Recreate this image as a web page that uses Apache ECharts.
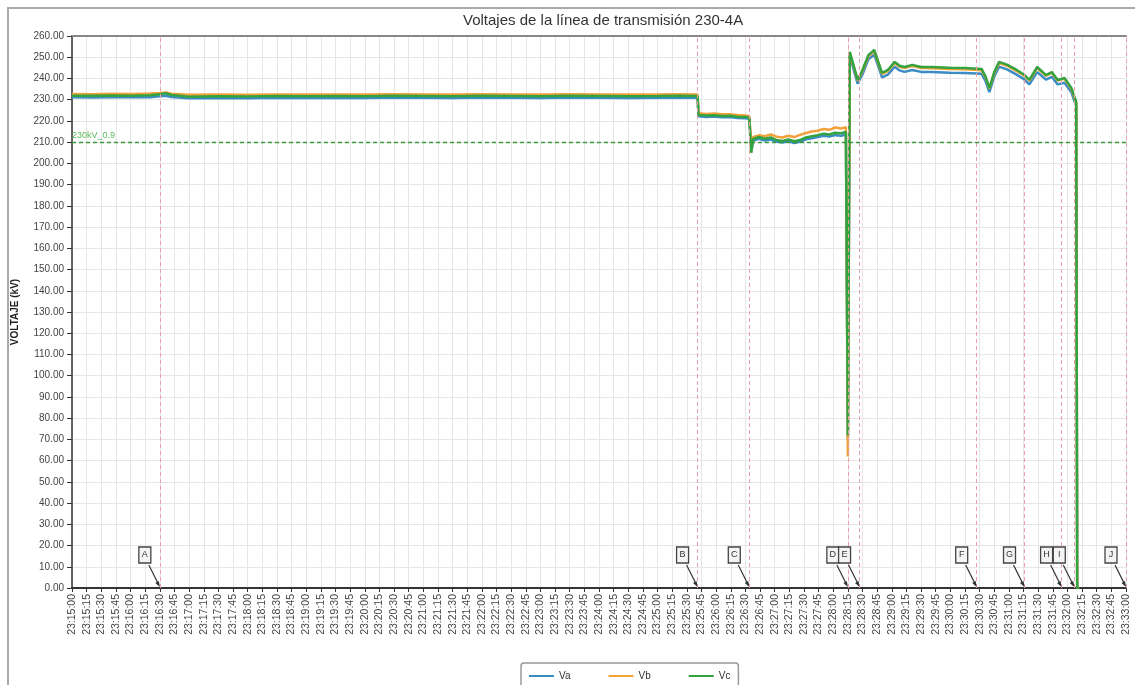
<!DOCTYPE html>
<html>
<head>
<meta charset="utf-8">
<script src="https://cdn.jsdelivr.net/npm/echarts@6/dist/echarts.min.js"></script>
<style>
  html, body { margin: 0; padding: 0; background: #fff; }
  #chart { width: 1135px; height: 685px; }
</style>
</head>
<body>
<div id="chart"></div>
<script>
// tiempo en segundos desde 23:15:00
var times = [
  0, 20, 40, 60, 80, 90, 96, 102, 120, 150, 180, 210, 240, 270, 300, 330, 360, 390, 420, 450, 480, 510, 540, 570, 600, 620, 641,
  642, 650, 658, 666, 674, 682, 690, 694,
  696, 698,
  704, 710, 716, 722, 728, 734, 740, 746, 752, 758, 764, 770, 776, 782, 788, 793,
  795, 797,
  801, 805, 810, 816, 822, 826, 830, 836, 843, 848, 853, 861, 870, 881, 899, 915, 932, 936, 940, 945, 950, 958, 968, 975, 981, 989, 998, 1004, 1010, 1017, 1024, 1029,
  1030, 1032
];
var va = [
  231.1, 231.0, 231.2, 231.1, 231.2, 231.6, 231.9, 231.3, 230.7, 230.8, 230.7, 230.9, 230.8, 230.9, 230.8, 231.0, 230.9, 230.8, 231.0, 230.9, 230.8, 231.0, 230.9, 230.8, 230.9, 231.0, 230.9,
  222.2, 221.9, 222.1, 221.7, 221.8, 221.4, 221.2, 221.0,
  206.0, 210.8,
  211.6, 210.8, 211.2, 210.2, 209.8, 210.4, 209.6, 210.2, 211.3, 211.8, 212.4, 213.0, 212.6, 213.3, 213.0, 213.6,
  70.0, 250.8,
  244.0, 237.5, 242.0, 249.0, 251.2, 246.0, 240.5, 241.8, 245.5, 243.8, 243.1, 244.0, 243.1, 243.0, 242.7, 242.6, 242.2, 238.8, 233.6, 241.0, 245.6, 244.3, 241.8, 239.8, 237.2, 243.0, 239.5, 240.8, 237.2, 238.0, 233.5, 227.0,
  0, 0
];
var vb = [
  232.7, 232.6, 232.8, 232.7, 232.9, 233.2, 233.4, 232.8, 232.3, 232.4, 232.3, 232.5, 232.4, 232.5, 232.4, 232.6, 232.5, 232.4, 232.6, 232.5, 232.4, 232.6, 232.5, 232.4, 232.5, 232.6, 232.5,
  223.6, 223.3, 223.5, 223.1, 223.2, 222.8, 222.6, 222.3,
  208.5, 212.5,
  213.2, 212.8, 213.6, 212.6, 212.2, 213.0, 212.4, 213.4, 214.3, 215.0, 215.4, 216.2, 215.8, 216.9, 216.4, 217.0,
  62.0, 251.6,
  245.6, 239.0, 243.5, 250.4, 252.8, 247.6, 242.2, 243.5, 247.2, 245.5, 244.9, 245.8, 244.9, 244.8, 244.4, 244.3, 243.9, 240.6, 235.2, 242.5, 247.2, 246.0, 243.5, 241.6, 239.0, 244.9, 241.2, 242.6, 239.0, 239.8, 235.0, 228.5,
  0, 0
];
var vc = [
  231.9, 231.8, 232.0, 231.9, 232.1, 232.6, 233.0, 232.2, 231.4, 231.6, 231.5, 231.7, 231.6, 231.7, 231.6, 231.8, 231.7, 231.6, 231.8, 231.7, 231.6, 231.8, 231.7, 231.6, 231.7, 231.8, 231.7,
  222.8, 222.5, 222.7, 222.3, 222.4, 222.0, 221.8, 221.6,
  205.0, 211.5,
  212.4, 211.6, 212.2, 211.0, 210.6, 211.3, 210.4, 211.0, 212.2, 212.8, 213.3, 214.0, 213.6, 214.4, 214.2, 214.8,
  72.0, 252.5,
  246.0, 239.3, 244.0, 251.0, 253.4, 248.0, 242.6, 244.0, 247.8, 246.0, 245.4, 246.4, 245.4, 245.4, 245.0, 244.9, 244.5, 241.0, 235.5, 243.0, 247.8, 246.5, 244.0, 242.0, 239.3, 245.4, 241.6, 243.0, 239.3, 240.2, 235.5, 229.0,
  0, 0
];
// eventos marcados
var eventLabels = ['A', 'B', 'C', 'D', 'E', 'F', 'G', 'H', 'I', 'J'];
var eventTimes = [90, 641, 694, 795, 807, 927, 976, 1014, 1027, 1080];
var limitValue = 210;
var limitLabel = '230kV_0.9';

function pair(arr) {
  return times.map(function (t, i) { return [t, arr[i]]; });
}
function fmtTime(t) {
  var s = 23 * 3600 + 15 * 60 + t;
  var h = Math.floor(s / 3600), m = Math.floor((s % 3600) / 60), sec = s % 60;
  function p(n) { return (n < 10 ? '0' : '') + n; }
  return p(h) + ':' + p(m) + ':' + p(sec);
}

var myChart = echarts.init(document.getElementById('chart'));
var font = 'Liberation Sans, Arial, sans-serif';

var option = {
  animation: false,
  textStyle: { fontFamily: font },
  title: {
    text: 'Voltajes de la línea de transmisión 230-4A',
    left: 458,
    top: 8,
    textStyle: { fontSize: 15, fontWeight: 'normal', color: '#333', fontFamily: font }
  },
  graphic: [{
    type: 'rect',
    shape: { x: 8, y: 8, width: 1200, height: 720 },
    style: { fill: 'none', stroke: '#aaa', lineWidth: 2 },
    silent: true
  }],
  legend: {
    data: ['Va', 'Vb', 'Vc'],
    left: 521,
    top: 663,
    icon: 'rect',
    itemWidth: 25,
    itemHeight: 2,
    itemGap: 38,
    padding: [8, 8, 10, 8],
    borderColor: '#999',
    borderWidth: 1.5,
    borderRadius: 3,
    textStyle: { fontSize: 10, color: '#333' }
  },
  grid: { left: 72, right: 9, top: 36, bottom: 97 },
  xAxis: [{
    type: 'value',
    min: 0,
    max: 1080,
    interval: 15,
    axisLine: { lineStyle: { color: '#333', width: 2 } },
    axisTick: { length: 4, lineStyle: { color: '#333' } },
    axisLabel: {
      rotate: 90,
      fontSize: 10.5,
      color: '#444',
      margin: 6,
      formatter: fmtTime
    },
    splitLine: { lineStyle: { color: '#e6e6e6', width: 1 } }
  }, {
    type: 'value',
    position: 'top',
    min: 0,
    max: 1080,
    axisLine: { show: true, onZero: false, lineStyle: { color: '#888', width: 2 } },
    axisTick: { show: false },
    axisLabel: { show: false },
    splitLine: { show: false }
  }],
  yAxis: {
    type: 'value',
    min: 0,
    max: 260,
    interval: 10,
    name: 'VOLTAJE (kV)',
    nameLocation: 'middle',
    nameGap: 52,
    nameTextStyle: { fontSize: 10, fontWeight: 'bold', color: '#222' },
    axisLine: { show: true, lineStyle: { color: '#333', width: 1.5 } },
    axisTick: { show: true, length: 5, lineStyle: { color: '#333' } },
    axisLabel: {
      fontSize: 10,
      color: '#444',
      margin: 8,
      formatter: function (v) { return v.toFixed(2); }
    },
    splitLine: { lineStyle: { color: '#e6e6e6', width: 1 } }
  },
  series: [{
    name: 'Va',
    type: 'line',
    data: pair(va),
    symbol: 'none',
    lineStyle: { width: 2.5, color: '#3a8cc4' },
    itemStyle: { color: '#3a8cc4' },
    markLine: {
      silent: true,
      symbol: 'none',
      label: { show: false },
      lineStyle: { color: '#eaa0a8', type: [4, 3], width: 1 },
      data: eventTimes.map(function (t) { return { xAxis: t }; })
    }
  }, {
    name: 'Vb',
    type: 'line',
    data: pair(vb),
    symbol: 'none',
    lineStyle: { width: 2.5, color: '#f2a03a' },
    itemStyle: { color: '#f2a03a' }
  }, {
    name: 'Vc',
    type: 'line',
    data: pair(vc),
    symbol: 'none',
    lineStyle: { width: 2.5, color: '#33a340' },
    itemStyle: { color: '#33a340' },
    markLine: {
      silent: true,
      symbol: 'none',
      lineStyle: { color: '#3a9a3a', type: [4, 3], width: 1.3 },
      label: {
        show: true,
        position: 'insideStartTop',
        formatter: limitLabel,
        fontSize: 9,
        color: '#5cb85c',
        distance: [0, 2]
      },
      data: [{ yAxis: limitValue }]
    }
  }, {
    name: 'eventos',
    type: 'custom',
    silent: true,
    clip: false,
    z: 5,
    data: eventTimes.map(function (t, i) { return [t, 0, i]; }),
    renderItem: function (params, api) {
      var p = api.coord([api.value(0), 0]);
      var label = eventLabels[api.value(2)];
      return {
        type: 'group',
        children: [{
          type: 'line',
          shape: { x1: p[0] - 11, y1: p[1] - 23, x2: p[0] - 1, y2: p[1] - 3 },
          style: { stroke: '#333', lineWidth: 1.2 }
        }, {
          type: 'polygon',
          shape: { points: [[p[0], p[1] - 1], [p[0] - 4.5, p[1] - 5], [p[0] - 1, p[1] - 7]] },
          style: { fill: '#333' }
        }, {
          type: 'rect',
          shape: { x: p[0] - 21, y: p[1] - 41, width: 12, height: 16 },
          style: { fill: '#f4f4f4', stroke: '#444', lineWidth: 1.3 }
        }, {
          type: 'text',
          style: {
            text: label, x: p[0] - 15, y: p[1] - 33,
            align: 'center', verticalAlign: 'middle',
            fontSize: 9, fill: '#333', fontFamily: font
          }
        }]
      };
    }
  }]
};

myChart.setOption(option);
</script>
</body>
</html>
